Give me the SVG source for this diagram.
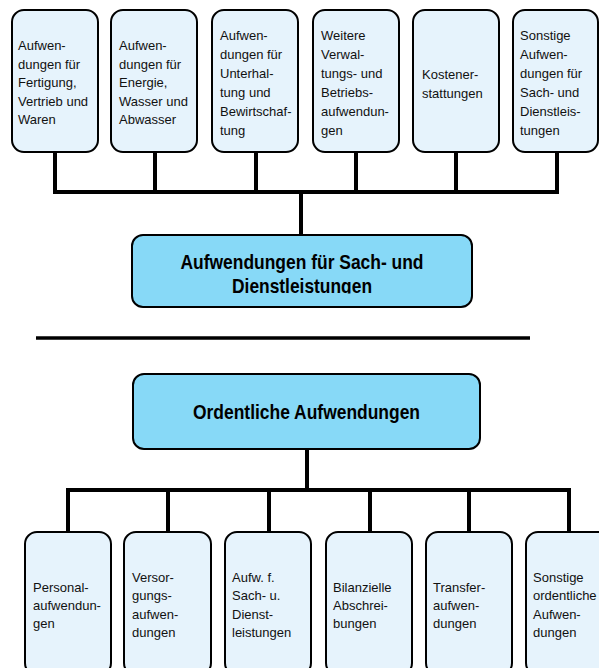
<svg xmlns="http://www.w3.org/2000/svg" width="599" height="668" viewBox="0 0 599 668">
<style>
.sub{fill:#E6F3FC;stroke:#000;stroke-width:2}
.main{fill:#87D9F7;stroke:#000;stroke-width:2}
.t{font-family:"Liberation Sans",Arial,sans-serif;font-size:13px;fill:#111}
.b{font-family:"Liberation Sans",Arial,sans-serif;font-size:21px;font-weight:bold;fill:#000}
.c{stroke:#000;stroke-width:4;fill:none;stroke-linecap:square}
</style>
<defs>
<clipPath id="clip1"><rect x="130" y="230" width="350" height="63.5"/></clipPath>
</defs>
<rect width="599" height="668" fill="#fff"/>
<g id="connectors">
<path class="c" d="M55 152V192M155 152V192M256 152V192M356 152V192M456 152V192M557 152V192M55 192H557M301 192V235"/>
<line x1="36" y1="338" x2="530" y2="338" stroke="#000" stroke-width="3.5"/>
<path class="c" d="M307 449V490M68 490H569M68 490V532M168 490V532M269 490V532M370 490V532M469 490V532M569 490V532"/>
</g>
<g id="n1"><rect class="sub" x="12" y="10" width="86" height="142" rx="12"/>
<text class="t" x="18"><tspan x="18" y="50">Aufwen-</tspan><tspan x="18" y="68.5">dungen für</tspan><tspan x="18" y="87">Fertigung,</tspan><tspan x="18" y="105.5">Vertrieb und</tspan><tspan x="18" y="124">Waren</tspan></text></g>
<g id="n2"><rect class="sub" x="111" y="10" width="86" height="142" rx="12"/>
<text class="t"><tspan x="119" y="50">Aufwen-</tspan><tspan x="119" y="68.5">dungen für</tspan><tspan x="119" y="87">Energie,</tspan><tspan x="119" y="105.5">Wasser und</tspan><tspan x="119" y="124">Abwasser</tspan></text></g>
<g id="n3"><rect class="sub" x="212" y="10" width="86" height="142" rx="12"/>
<text class="t"><tspan x="220" y="40">Aufwen-</tspan><tspan x="220" y="59">dungen für</tspan><tspan x="220" y="78">Unterhal-</tspan><tspan x="220" y="97">tung und</tspan><tspan x="220" y="116">Bewirtschaf-</tspan><tspan x="220" y="135">tung</tspan></text></g>
<g id="n4"><rect class="sub" x="313" y="10" width="86" height="142" rx="12"/>
<text class="t"><tspan x="321" y="40">Weitere</tspan><tspan x="321" y="59">Verwal-</tspan><tspan x="321" y="78">tungs- und</tspan><tspan x="321" y="97">Betriebs-</tspan><tspan x="321" y="116">aufwendun-</tspan><tspan x="321" y="135">gen</tspan></text></g>
<g id="n5"><rect class="sub" x="413" y="10" width="86" height="142" rx="12"/>
<text class="t"><tspan x="422" y="79">Kostener-</tspan><tspan x="422" y="97.5">stattungen</tspan></text></g>
<g id="n6"><rect class="sub" x="513" y="10" width="85" height="142" rx="12"/>
<text class="t"><tspan x="520" y="40">Sonstige</tspan><tspan x="520" y="59">Aufwen-</tspan><tspan x="520" y="78">dungen für</tspan><tspan x="520" y="97">Sach- und</tspan><tspan x="520" y="116">Dienstleis-</tspan><tspan x="520" y="135">tungen</tspan></text></g>
<g id="main1"><rect class="main" x="132" y="235" width="340" height="72" rx="11"/>
<g clip-path="url(#clip1)"><text class="b" text-anchor="middle"><tspan x="302" y="269" textLength="243" lengthAdjust="spacingAndGlyphs">Aufwendungen für Sach- und</tspan></text>
<text class="b" text-anchor="middle"><tspan x="302" y="293" textLength="140" lengthAdjust="spacingAndGlyphs">Dienstleistungen</tspan></text></g></g>
<g id="main2"><rect class="main" x="133" y="374" width="347" height="75" rx="11"/>
<text class="b" text-anchor="middle"><tspan x="306.5" y="419" textLength="227" lengthAdjust="spacingAndGlyphs">Ordentliche Aufwendungen</tspan></text></g>
<g id="m1"><rect class="sub" x="25" y="532" width="86" height="143" rx="12"/>
<text class="t"><tspan x="33" y="591.5">Personal-</tspan><tspan x="33" y="609.5">aufwendun-</tspan><tspan x="33" y="627.5">gen</tspan></text></g>
<g id="m2"><rect class="sub" x="124" y="532" width="87" height="143" rx="12"/>
<text class="t"><tspan x="132" y="581.5">Versor-</tspan><tspan x="132" y="600">gungs-</tspan><tspan x="132" y="618.5">aufwen-</tspan><tspan x="132" y="637">dungen</tspan></text></g>
<g id="m3"><rect class="sub" x="225" y="532" width="86" height="143" rx="12"/>
<text class="t"><tspan x="232" y="581.5">Aufw. f.</tspan><tspan x="232" y="600">Sach- u.</tspan><tspan x="232" y="618.5">Dienst-</tspan><tspan x="232" y="637">leistungen</tspan></text></g>
<g id="m4"><rect class="sub" x="326" y="532" width="86" height="143" rx="12"/>
<text class="t"><tspan x="333" y="591.5">Bilanzielle</tspan><tspan x="333" y="609.5">Abschrei-</tspan><tspan x="333" y="627.5">bungen</tspan></text></g>
<g id="m5"><rect class="sub" x="426" y="532" width="86" height="143" rx="12"/>
<text class="t"><tspan x="433" y="591.5">Transfer-</tspan><tspan x="433" y="609.5">aufwen-</tspan><tspan x="433" y="627.5">dungen</tspan></text></g>
<g id="m6"><rect class="sub" x="526" y="532" width="86" height="143" rx="12"/>
<text class="t"><tspan x="533" y="581.5">Sonstige</tspan><tspan x="533" y="600">ordentliche</tspan><tspan x="533" y="618.5">Aufwen-</tspan><tspan x="533" y="637">dungen</tspan></text></g>
</svg>
